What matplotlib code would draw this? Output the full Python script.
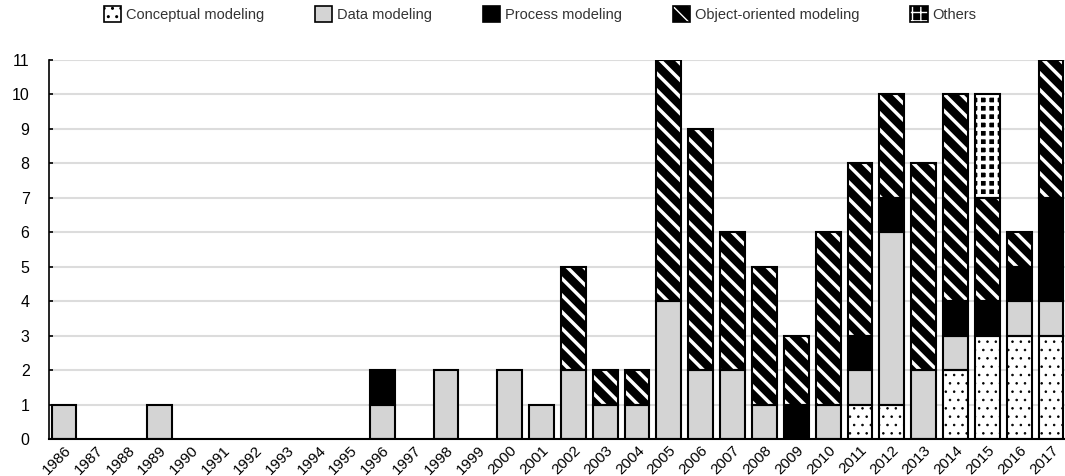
import numpy as np
import matplotlib
matplotlib.use("Agg")
import matplotlib.pyplot as plt
from matplotlib.patches import Patch

plt.rcParams['font.family'] = ['Liberation Sans', 'DejaVu Sans']

years = [str(y) for y in range(1986, 2018)]

# valores por ano (1986 .. 2017)
conceptual = [0, 0, 0, 0, 0, 0, 0, 0, 0, 0, 0, 0, 0, 0, 0, 0,
              0, 0, 0, 0, 0, 0, 0, 0, 0, 1, 1, 0, 2, 3, 3, 3]
data_mod = [1, 0, 0, 1, 0, 0, 0, 0, 0, 0, 1, 0, 2, 0, 2, 1,
            2, 1, 1, 4, 2, 2, 1, 0, 1, 1, 5, 2, 1, 0, 1, 1]
process = [0, 0, 0, 0, 0, 0, 0, 0, 0, 0, 1, 0, 0, 0, 0, 0,
           0, 0, 0, 0, 0, 0, 0, 1, 0, 1, 1, 0, 1, 1, 1, 3]
object_oriented = [0, 0, 0, 0, 0, 0, 0, 0, 0, 0, 0, 0, 0, 0, 0, 0,
                   3, 1, 1, 7, 7, 4, 4, 2, 5, 5, 3, 6, 6, 3, 1, 4]
others = [0] * 29 + [3, 0, 0]

labels = ["Conceptual modeling", "Data modeling", "Process modeling",
          "Object-oriented modeling", "Others"]

styles = [
    dict(facecolor='white', hatch='..', hatchcolor='black', hlw=0.6),
    dict(facecolor='#d4d4d4', hatch=None, hatchcolor=None, hlw=1.0),
    dict(facecolor='black', hatch=None, hatchcolor=None, hlw=1.0),
    dict(facecolor='black', hatch='\\\\', hatchcolor='white', hlw=2.5),
    dict(facecolor='black', hatch='++', hatchcolor='white', hlw=2.6),
]


def set_hlw(p, lw):
    if hasattr(p, 'set_hatch_linewidth'):
        p.set_hatch_linewidth(lw)


fig = plt.figure(figsize=(10.65, 4.76), dpi=100)
ax = fig.add_axes([49 / 1065, 1 - 439 / 476, 1 - 49 / 1065, (439 - 60) / 476])

x = np.arange(len(years))
width = 0.78
bottom = np.zeros(len(years))
series = [conceptual, data_mod, process, object_oriented, others]

for vals, st in zip(series, styles):
    vals = np.array(vals, dtype=float)
    mask = vals > 0
    if st['hatch']:
        bars = ax.bar(x[mask], vals[mask], width, bottom=bottom[mask],
                      color=st['facecolor'], edgecolor=st['hatchcolor'],
                      hatch=st['hatch'], linewidth=0, zorder=2)
        for b in bars:
            set_hlw(b, st['hlw'])
    else:
        ax.bar(x[mask], vals[mask], width, bottom=bottom[mask],
               color=st['facecolor'], linewidth=0, zorder=2)
    # contorno preto
    ax.bar(x[mask], vals[mask], width, bottom=bottom[mask],
           facecolor='none', edgecolor='black', linewidth=1.5, zorder=3)
    bottom += vals

ax.set_xlim(-0.47, 31.44)
ax.set_ylim(0, 11)
ax.set_yticks(range(0, 12))
ax.set_xticks(x)
ax.set_xticklabels(years, rotation=45, ha='right', rotation_mode='anchor',
                   fontsize=11)
ax.tick_params(axis='y', labelsize=11.5, length=3, width=1.2,
               direction='in', pad=14)
ax.tick_params(axis='x', length=0, pad=3)
ax.yaxis.grid(True, color='#dcdcdc', linewidth=1.5, zorder=0)
ax.set_axisbelow(True)
for s in ['top', 'right']:
    ax.spines[s].set_visible(False)
ax.spines['left'].set_color('black')
ax.spines['left'].set_linewidth(1.2)
ax.spines['bottom'].set_color('black')
ax.spines['bottom'].set_linewidth(1.5)

# legenda: sobrepõe fundo com hachura e contorno preto
handles = []
for lab, st in zip(labels, styles):
    if st['hatch']:
        base = Patch(facecolor=st['facecolor'], edgecolor=st['hatchcolor'],
                     hatch=st['hatch'], linewidth=0)
        set_hlw(base, st['hlw'] * 0.8)
    else:
        base = Patch(facecolor=st['facecolor'], linewidth=0)
    edge = Patch(facecolor='none', edgecolor='black', linewidth=1.2)
    handles.append((base, edge))
fig.legend(handles=handles, labels=labels, loc='center',
           bbox_to_anchor=(0.507, 0.97), ncol=5, frameon=False,
           fontsize=10.5, handlelength=1.2, handleheight=1.3,
           handletextpad=0.3, columnspacing=3.5, labelcolor='#333333')

fig.savefig('out.png', dpi=100)
